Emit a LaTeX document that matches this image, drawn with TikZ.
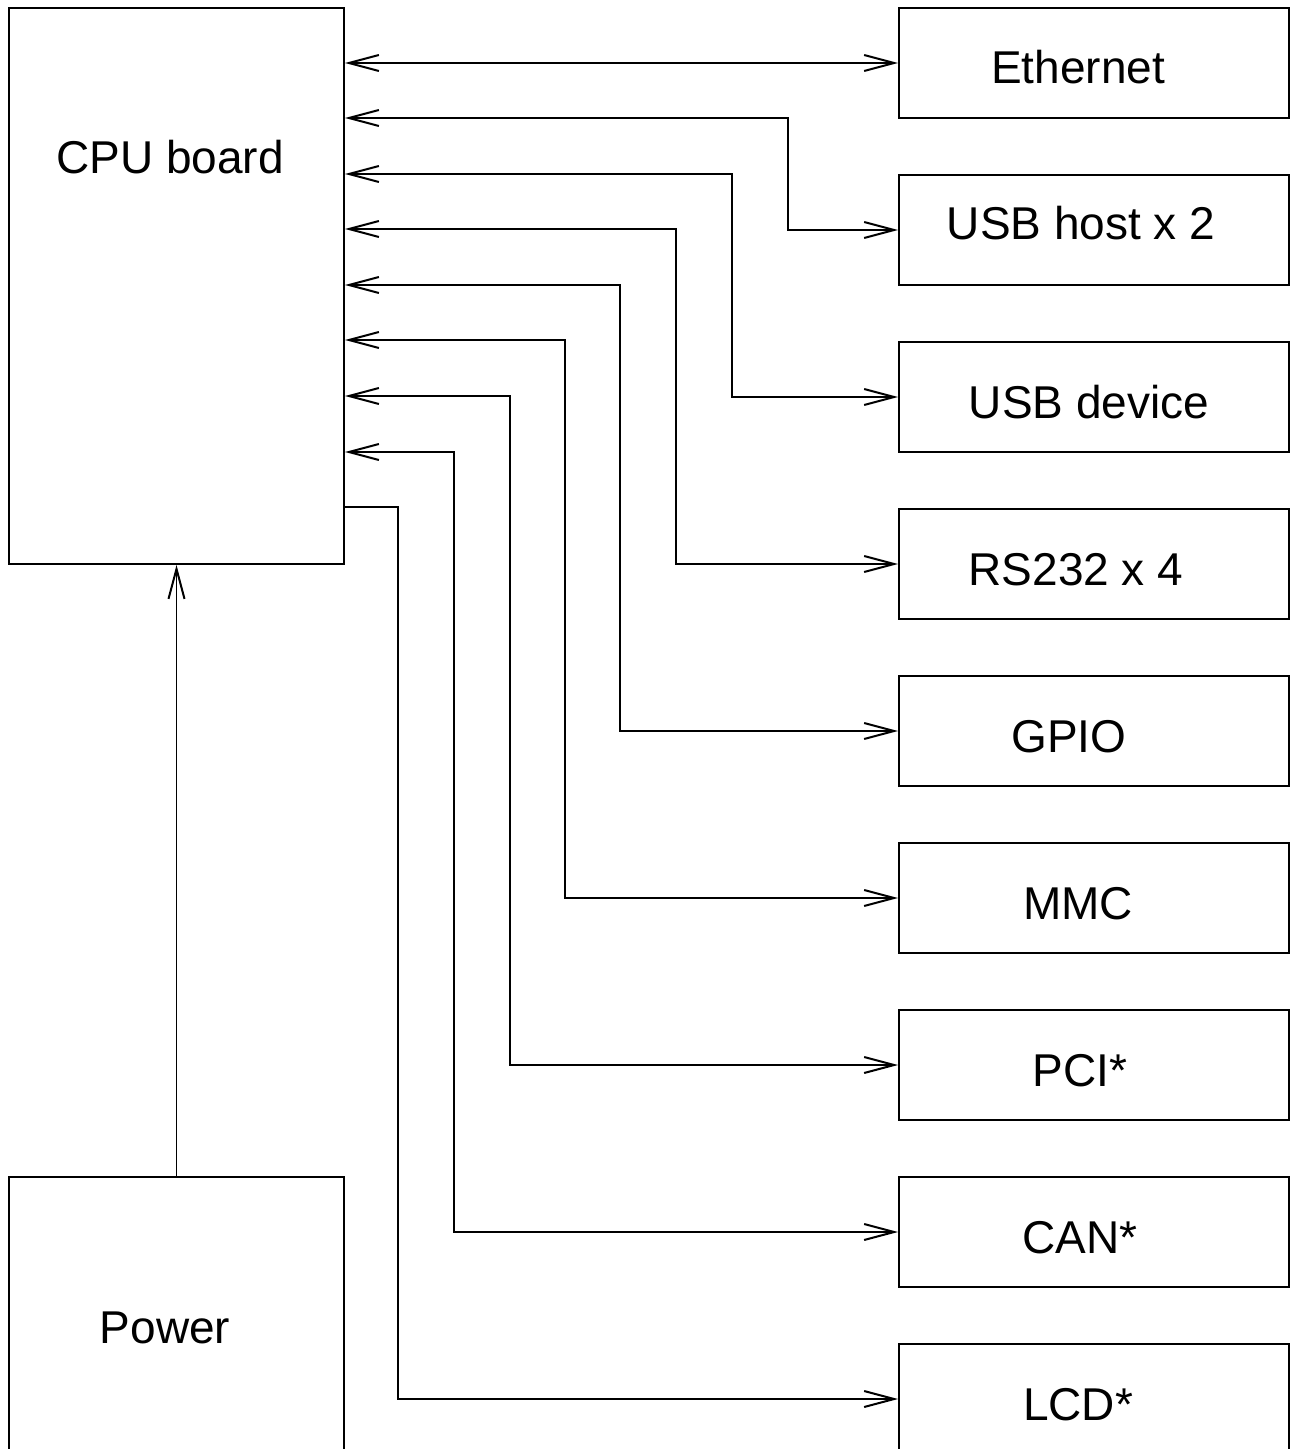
\documentclass[tikz,border=0pt]{standalone}
\usepackage{fontspec}
\setmainfont{Liberation Sans}
\usetikzlibrary{arrows.meta}
\begin{document}
\begin{tikzpicture}[x=0.5pt,y=-0.5pt,
  box/.style={draw,line width=1pt,minimum width=195pt,minimum height=55pt,inner sep=0pt,anchor=north west},
  bigbox/.style={draw,line width=1pt,minimum width=167.5pt,inner sep=0pt,anchor=north west},
  lbl/.style={font=\fontsize{23pt}{27pt}\selectfont,anchor=base,inner sep=0pt},
  tip/.tip={Straight Barb[length=15pt,width=8pt,line width=1pt]},
  conn/.style={line width=0.85pt}]
\path[use as bounding box] (0,0) rectangle (1291,1449);
\clip (0,0) rectangle (1291,1449);
% boxes
\node[bigbox,minimum height=278pt] (cpu) at (8,7) {};
\node[bigbox,minimum height=160pt] (pwr) at (8,1176) {};
\node[box] (eth) at (898,7) {};
\node[box] (usbh) at (898,174) {};
\node[box] (usbd) at (898,341) {};
\node[box] (rs) at (898,508) {};
\node[box] (gpio) at (898,675) {};
\node[box] (mmc) at (898,842) {};
\node[box] (pci) at (898,1009) {};
\node[box] (can) at (898,1176) {};
\node[box] (lcd) at (898,1343) {};
% labels
\node[lbl] (tcpu) at (170,174) {CPU board};
\node[lbl] (tpwr) at (165,1343) {Power};
\node[lbl] (teth) at (1078,84) {Ethernet};
\node[lbl] (tusbh) at (1081,240) {USB host x 2};
\node[lbl] (tusbd) at (1089,418) {USB device};
\node[lbl] (trs) at (1076,585) {RS232 x 4};
\node[lbl] (tgpio) at (1069,752) {GPIO};
\node[lbl] (tmmc) at (1078,919) {MMC};
\node[lbl] (tpci) at (1080,1086) {PCI*};
\node[lbl] (tcan) at (1080,1253) {CAN*};
\node[lbl] (tlcd) at (1078,1420) {LCD*};
% bend coordinates
\coordinate (b1) at (788,118);
\coordinate (b2) at (732,174);
\coordinate (b3) at (676,229);
\coordinate (b4) at (620,285);
\coordinate (b5) at (565,340);
\coordinate (b6) at (510,396);
\coordinate (b7) at (454,452);
\coordinate (b8) at (398,507);
% connectors
\draw[conn,{tip}-{tip}] (cpu.east |- eth.west) -- (eth.west);
\draw[conn,{tip}-{tip}] (cpu.east |- b1) -- (b1) |- (usbh.west);
\draw[conn,{tip}-{tip}] (cpu.east |- b2) -- (b2) |- (usbd.west);
\draw[conn,{tip}-{tip}] (cpu.east |- b3) -- (b3) |- (rs.west);
\draw[conn,{tip}-{tip}] (cpu.east |- b4) -- (b4) |- (gpio.west);
\draw[conn,{tip}-{tip}] (cpu.east |- b5) -- (b5) |- (mmc.west);
\draw[conn,{tip}-{tip}] (cpu.east |- b6) -- (b6) |- (pci.west);
\draw[conn,{tip}-{tip}] (cpu.east |- b7) -- (b7) |- (can.west);
\draw[conn,-{tip}] (cpu.east |- b8) -- (b8) |- (lcd.west);
\draw[conn,-{tip}] (pwr.north) -- (cpu.south);
\end{tikzpicture}
\end{document}
